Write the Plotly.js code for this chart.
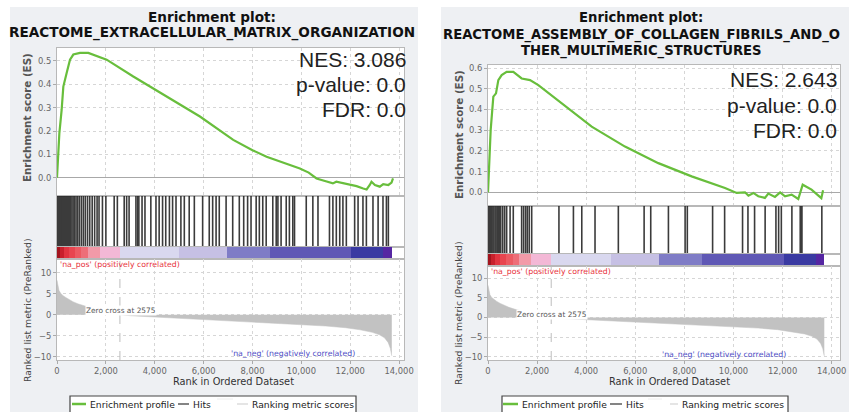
<!DOCTYPE html>
<html><head><meta charset="utf-8">
<script src="https://cdn.plot.ly/plotly-3.0.1.min.js"></script>
<style>html,body{margin:0;padding:0;background:#fff}#chart{width:851px;height:412px}</style>
</head><body><div id="chart"></div>
<script>
// ---------------- data ----------------
const zeroCross = 2575;
const xTicks = [0, 2000, 4000, 6000, 8000, 10000, 12000, 14000];
const esTicksL = [0, 0.1, 0.2, 0.3, 0.4, 0.5];
const esTicksR = [0, 0.1, 0.2, 0.3, 0.4, 0.5, 0.6];
const rankTicks = [-10, -5, 0, 5, 10];

const titleL = ['Enrichment plot:', 'REACTOME_EXTRACELLULAR_MATRIX_ORGANIZATION'];
const titleR = ['Enrichment plot:', 'REACTOME_ASSEMBLY_OF_COLLAGEN_FIBRILS_AND_O', 'THER_MULTIMERIC_STRUCTURES'];
const statsL = ['NES: 3.086', 'p-value: 0.0', 'FDR: 0.0'];
const statsR = ['NES: 2.643', 'p-value: 0.0', 'FDR: 0.0'];
const legendLabels = ['Enrichment profile', 'Hits', 'Ranking metric scores'];

// running enrichment score, left panel
const esRankL = [0, 40, 96, 190, 259, 395, 532, 668, 941, 1282, 1623, 2032, 3122, 4486, 5849, 7212, 8000, 8576, 9000, 9394, 9939, 10300, 10620, 11000, 11290, 11430, 11720, 11990, 12260, 12530, 12670, 12800, 12870, 13010, 13210, 13350, 13560, 13690, 13750];
const esL     = [0, 0.11, 0.19, 0.29, 0.39, 0.448, 0.505, 0.527, 0.534, 0.534, 0.522, 0.505, 0.433, 0.348, 0.262, 0.162, 0.118, 0.09, 0.075, 0.062, 0.04, 0.022, -0.003, -0.015, -0.024, -0.017, -0.024, -0.031, -0.036, -0.046, -0.05, -0.031, -0.017, -0.031, -0.038, -0.027, -0.031, -0.021, -0.003];
const hitsL = [5, 20, 40, 60, 80, 100, 125, 150, 175, 200, 230, 260, 290, 320, 350, 390, 430, 470, 510, 560, 610, 660, 720, 780, 850, 920, 1000, 1080, 1160, 1250, 1340, 1440, 1540, 1640, 1720,
  1860, 2000, 2340, 2470, 2750, 2850, 2950, 3230, 3300, 3350, 3480, 3600, 3840, 4050, 4180, 4320, 4450, 4600, 4730, 4870, 5070, 5210, 5410, 5620, 5960, 6230, 6370, 6510, 6640, 6920, 7190,
  7460, 7640, 7800, 7940, 8150, 8280, 8420, 8560, 8830, 8970, 9040, 9170, 9380, 9510, 9650, 9720, 10200, 10470, 10680, 11150, 11290, 11430, 11570, 11700, 11840, 12180, 12320, 12520,
  12660, 12930, 13140, 13340, 13480, 13560];

// running enrichment score, right panel
const esRankR = [0, 41, 109, 217, 326, 421, 557, 760, 1032, 1372, 1711, 2051, 4224, 5581, 6939, 8297, 9655, 10131, 10470, 10610, 10810, 11010, 11280, 11420, 11690, 11900, 12100, 12370, 12640, 12820, 13180, 13580, 13650];
const esR     = [0, 0.157, 0.301, 0.462, 0.478, 0.542, 0.566, 0.582, 0.582, 0.55, 0.542, 0.518, 0.317, 0.221, 0.141, 0.077, 0.021, -0.003, 0, -0.016, -0.003, -0.019, -0.027, -0.006, -0.022, 0, -0.019, -0.011, -0.032, 0.037, 0.013, -0.028, 0.01];
const hitsR = [10, 40, 70, 100, 130, 160, 200, 240, 290, 330, 380, 420, 470, 520, 600, 680, 760, 900, 1030, 1370, 1450, 1530, 1600, 1680, 1780, 2890, 3480, 3820, 4360, 5310, 6360, 6630,
  7350, 8030, 8120, 9150, 9640, 10370, 10590, 10860, 11290, 11730, 11840, 11950, 12380, 12720, 12760, 12790, 13600];

// ranked list metric (shared ranked list)
const metricRank  = [0, 30, 80, 150, 250, 360, 500, 650, 850, 1100, 1400, 1800, 2200, 2575, 3000, 4000, 5000, 6000, 7000, 8000, 9000, 10000, 11000, 11800, 12400, 12900, 13200, 13400, 13550, 13640, 13690, 13700];
const metricValue = [8.2, 6.8, 5.8, 5.1, 4.5, 4.1, 3.6, 3.1, 2.6, 2.1, 1.6, 1.0, 0.5, 0, -0.25, -0.55, -0.85, -1.1, -1.35, -1.65, -1.95, -2.3, -2.7, -3.1, -3.6, -4.2, -4.8, -5.5, -6.6, -8.0, -9.6, -9.8];

// colour bar bands along the ranked list
const bandEdges  = [0, 120, 300, 500, 750, 1000, 1250, 1750, 2575, 5000, 6950, 8700, 12050, 13350, 13700];
const bandColors = ['#a3141e', '#c8202c', '#e03440', '#e8454f', '#ec5a62', '#ee6e78', '#f29aa8', '#f3b8d6', '#d9d8ef', '#c6c0e4', '#7f7cc6', '#5f58b5', '#3a3aa2', '#5526a2'];

// ---------------- layout geometry (pixels) ----------------
const W = 851, H = 412;
const px = v => v / W, py = v => 1 - v / H;
const FONT = 'DejaVu Sans';
const geo = [
  {x0: 57, x1: 404, xmax: 14200, esY: [48, 196], hitsY: [196, 247], barY: [247, 259], rankY: [259, 360],
   esRange: [-0.078, 0.555], rankRange: [-10.79, 13.26], titleX: 212, titleY: [17, 33], titleSize: 13.6, statX: 408, statY: [59.5, 84.5, 109.5],
   esTitle: [27, 118], rankTitle: [27, 310], xTitle: [233, 381], posLabel: [58, 264], negLabel: [357, 353], zcY: 1.1,
   legend: {x0: 70, x1: 356, lines: [[72, 86], [178, 189], [237, 248]], texts: [88, 191, 250], blank: [217, 233]},
   es: [esRankL, esL], hits: hitsL, esTicks: esTicksL, title: titleL, stats: statsL},
  {x0: 488, x1: 840, xmax: 14340, esY: [65, 206], hitsY: [206, 254], barY: [254, 266], rankY: [266, 360],
   esRange: [-0.066, 0.615], rankRange: [-10.84, 13.14], titleX: 641, titleY: [18, 34.5, 51], titleSize: 13.2, statX: 839, statY: [79, 105.5, 130.5],
   esTitle: [459, 134], rankTitle: [458, 313], xTitle: [669, 381], posLabel: [489, 271], negLabel: [788, 354], zcY: 0.8,
   legend: {x0: 502, x1: 788, lines: [[503, 518], [610, 622], [670, 678]], texts: [520, 624, 680], blank: [648, 662]},
   es: [esRankR, esR], hits: hitsR, esTicks: esTicksR, title: titleR, stats: statsR}
];

const traces = [];
const layout = {
  width: W, height: H, margin: {l: 0, r: 0, t: 0, b: 0},
  paper_bgcolor: '#eef0f3', plot_bgcolor: '#ffffff', showlegend: false,
  font: {family: FONT, color: '#444'}, shapes: [], annotations: []
};

// white gaps around the two grey panels
[[0, 10, 0, H], [418, 441, 0, H], [849, W, 0, H], [0, W, 0, 7]].forEach(r => {
  layout.shapes.push({type: 'rect', xref: 'paper', yref: 'paper', x0: px(r[0]), x1: px(r[1]), y0: py(r[3]), y1: py(r[2]),
    fillcolor: '#ffffff', line: {width: 0}, layer: 'below'});
});

const gridStyle = {showgrid: true, gridcolor: '#d6d6d6', griddash: 'dot', gridwidth: 1};
const frame = {showline: true, mirror: true, linecolor: '#b8b8b8', linewidth: 1, zeroline: false};
const tickFont = {family: FONT, size: 8.4, color: '#666'};

geo.forEach((g, p) => {
  const n = p * 4;
  const ax = k => (k === 1 ? '' : String(k));
  const ids = [n + 1, n + 2, n + 3, n + 4];
  const xdom = [px(g.x0), px(g.x1)];
  const ydom = r => [py(r[1]), py(r[0])];

  layout['xaxis' + ax(ids[0])] = Object.assign({domain: xdom, range: [0, g.xmax], anchor: 'y' + ax(ids[0]), tickvals: xTicks,
    showticklabels: false, ticks: ''}, gridStyle, frame);
  layout['yaxis' + ax(ids[0])] = Object.assign({domain: ydom(g.esY), range: g.esRange, anchor: 'x' + ax(ids[0]), tickvals: g.esTicks,
    tickformat: '.1f', ticks: 'outside', ticklen: 3, tickcolor: '#aaa', tickfont: tickFont}, gridStyle, frame,
    {zeroline: true, zerolinecolor: '#a8a8a8', zerolinewidth: 1});
  layout['xaxis' + ax(ids[1])] = Object.assign({domain: xdom, range: [0, g.xmax], anchor: 'y' + ax(ids[1]), showticklabels: false, ticks: '', showgrid: false}, frame);
  layout['yaxis' + ax(ids[1])] = Object.assign({domain: ydom(g.hitsY), range: [0, 1], anchor: 'x' + ax(ids[1]), showticklabels: false, ticks: '', showgrid: false}, frame);
  layout['xaxis' + ax(ids[2])] = Object.assign({domain: xdom, range: [0, g.xmax], anchor: 'y' + ax(ids[2]), showticklabels: false, ticks: '', showgrid: false}, frame);
  layout['yaxis' + ax(ids[2])] = Object.assign({domain: ydom(g.barY), range: [0, 1], anchor: 'x' + ax(ids[2]), showticklabels: false, ticks: '', showgrid: false}, frame);
  layout['xaxis' + ax(ids[3])] = Object.assign({domain: xdom, range: [0, g.xmax], anchor: 'y' + ax(ids[3]), tickvals: xTicks, tickformat: ',d',
    ticks: 'outside', ticklen: 3, tickcolor: '#aaa', tickfont: tickFont}, gridStyle, frame);
  layout['yaxis' + ax(ids[3])] = Object.assign({domain: ydom(g.rankY), range: g.rankRange, anchor: 'x' + ax(ids[3]), tickvals: rankTicks,
    ticks: 'outside', ticklen: 3, tickcolor: '#aaa', tickfont: tickFont}, gridStyle, frame);

  traces.push({type: 'scatter', mode: 'lines', x: g.es[0], y: g.es[1], xaxis: 'x' + ax(ids[0]), yaxis: 'y' + ax(ids[0]),
    line: {color: '#68be3c', width: 2.2}, hoverinfo: 'skip'});
  const hx = [], hy = [];
  g.hits.forEach(h => { hx.push(h, h, null); hy.push(0, 1, null); });
  traces.push({type: 'scatter', mode: 'lines', x: hx, y: hy, xaxis: 'x' + ax(ids[1]), yaxis: 'y' + ax(ids[1]),
    line: {color: '#1a1a1a', width: 1.6}, opacity: 0.85, hoverinfo: 'skip'});
  const nb = bandColors.length;
  traces.push({type: 'heatmap', x: bandEdges, y: [0, 1], z: [bandColors.map((c, i) => i)], zmin: 0, zmax: nb - 1,
    colorscale: bandColors.map((c, i) => [i / (nb - 1), c]), showscale: false, xaxis: 'x' + ax(ids[2]), yaxis: 'y' + ax(ids[2]), hoverinfo: 'skip'});
  traces.push({type: 'scatter', mode: 'lines', x: metricRank, y: metricValue, fill: 'tozeroy', fillcolor: '#c2c2c2',
    line: {color: '#c2c2c2', width: 0.5}, xaxis: 'x' + ax(ids[3]), yaxis: 'y' + ax(ids[3]), hoverinfo: 'skip'});

  layout.shapes.push({type: 'line', xref: 'x' + ax(ids[3]), yref: 'y' + ax(ids[3]) + ' domain', x0: zeroCross, x1: zeroCross, y0: 0, y1: 1,
    line: {color: '#bdbdbd', width: 1, dash: 'dash'}});
  layout.annotations.push({xref: 'x' + ax(ids[3]), yref: 'y' + ax(ids[3]), x: 1150, y: g.zcY, xanchor: 'left', yanchor: 'middle',
    text: 'Zero cross at ' + zeroCross, showarrow: false, font: {family: FONT, size: 7.4, color: '#555'}, bgcolor: '#ffffff', borderpad: 0});

  g.title.forEach((t, i) => layout.annotations.push({xref: 'paper', yref: 'paper', x: px(g.titleX), y: py(g.titleY[i]), xanchor: 'center', yanchor: 'middle',
    text: '<b>' + t + '</b>', showarrow: false, font: {family: FONT, size: g.titleSize, color: '#111'}}));
  g.stats.forEach((t, i) => layout.annotations.push({xref: 'paper', yref: 'paper', x: px(g.statX), y: py(g.statY[i]), xanchor: 'right', yanchor: 'middle',
    text: t, showarrow: false, font: {family: 'Liberation Sans', size: 21, color: '#222'}}));
  layout.annotations.push({xref: 'paper', yref: 'paper', x: px(g.esTitle[0]), y: py(g.esTitle[1]), textangle: -90, xanchor: 'center', yanchor: 'middle',
    text: '<b>Enrichment score (ES)</b>', showarrow: false, font: {family: FONT, size: 10.3, color: '#555'}});
  layout.annotations.push({xref: 'paper', yref: 'paper', x: px(g.rankTitle[0]), y: py(g.rankTitle[1]), textangle: -90, xanchor: 'center', yanchor: 'middle',
    text: 'Ranked list metric (PreRanked)', showarrow: false, font: {family: FONT, size: 9.3, color: '#444'}});
  layout.annotations.push({xref: 'paper', yref: 'paper', x: px(g.xTitle[0]), y: py(g.xTitle[1]), xanchor: 'center', yanchor: 'middle',
    text: 'Rank in Ordered Dataset', showarrow: false, font: {family: FONT, size: 9.8, color: '#333'}});
  layout.annotations.push({xref: 'paper', yref: 'paper', x: px(g.posLabel[0]), y: py(g.posLabel[1]), xanchor: 'left', yanchor: 'middle',
    text: "'na_pos' (positively correlated)", showarrow: false, font: {family: FONT, size: 7.8, color: '#e8323c'}});
  layout.annotations.push({xref: 'paper', yref: 'paper', x: px(g.negLabel[0]), y: py(g.negLabel[1]), xanchor: 'right', yanchor: 'middle',
    text: "'na_neg' (negatively correlated)", showarrow: false, font: {family: FONT, size: 7.8, color: '#4b4bc4'}});

  const L = g.legend, ly = 404;
  layout.shapes.push({type: 'rect', xref: 'paper', yref: 'paper', x0: px(L.x0), x1: px(L.x1), y0: py(414), y1: py(396),
    fillcolor: '#ffffff', line: {color: '#444', width: 1.2}});
  const lineCols = ['#68be3c', '#333333', '#d4d4d4'], lineW = [2.5, 1.2, 1.2];
  L.lines.forEach((l, i) => layout.shapes.push({type: 'line', xref: 'paper', yref: 'paper', x0: px(l[0]), x1: px(l[1]), y0: py(ly), y1: py(ly),
    line: {color: lineCols[i], width: lineW[i]}}));
  layout.shapes.push({type: 'line', xref: 'paper', yref: 'paper', x0: px(L.blank[0]), x1: px(L.blank[1]), y0: py(399), y1: py(399),
    line: {color: '#eeeeee', width: 1}});
  legendLabels.forEach((t, i) => layout.annotations.push({xref: 'paper', yref: 'paper', x: px(L.texts[i]), y: py(ly), xanchor: 'left', yanchor: 'middle',
    text: t, showarrow: false, font: {family: FONT, size: 9.2, color: '#222'}}));
});

Plotly.newPlot('chart', traces, layout, {staticPlot: true, displayModeBar: false});
</script></body></html>
